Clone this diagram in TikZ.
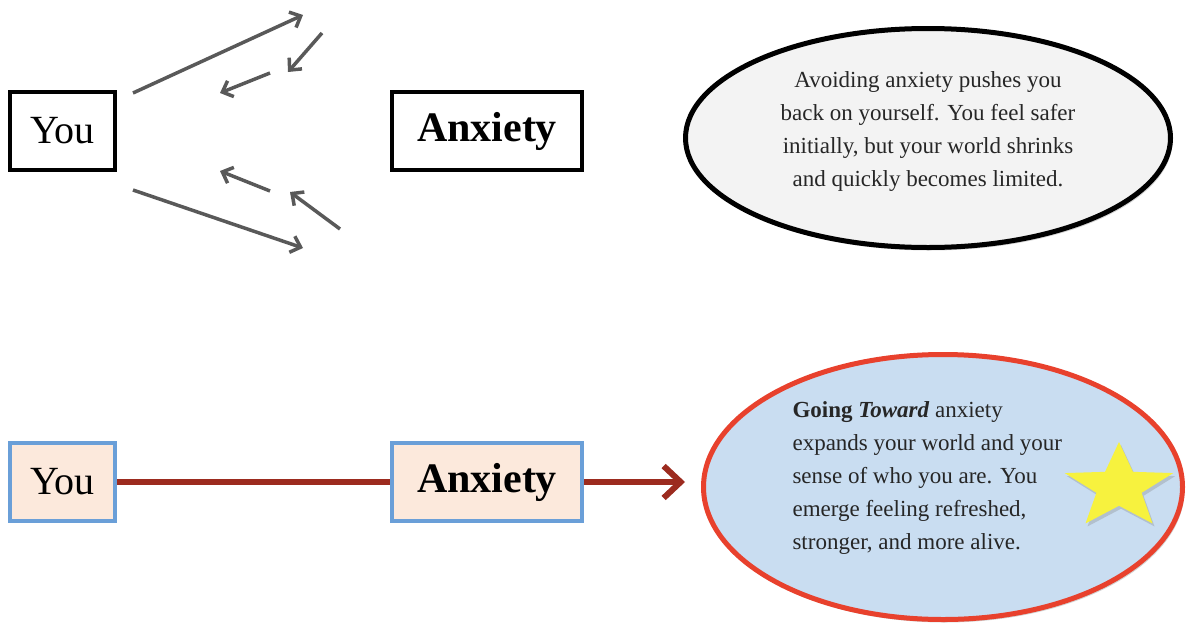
\documentclass[tikz,border=0pt]{standalone}
\usepackage{fontspec}
\setmainfont{Liberation Serif}
\usepackage{xcolor}
\usetikzlibrary{positioning, shapes.geometric, arrows.meta, shadows}

\definecolor{fangray}{HTML}{595959}
\definecolor{boxblue}{HTML}{6A9FD8}
\definecolor{boxpeach}{HTML}{FCE9DC}
\definecolor{pathred}{HTML}{9C2B1F}
\definecolor{ringred}{HTML}{E8412D}
\definecolor{calmblue}{HTML}{C9DDF1}
\definecolor{mistgray}{HTML}{F3F3F3}
\definecolor{staryellow}{HTML}{F7F23E}

\begin{document}
\begin{tikzpicture}[x=1pt, y=-1pt, node distance=273pt,
	plainbox/.style={draw=black, line width=4pt, fill=white, minimum height=78pt, inner sep=0pt},
	warmbox/.style={draw=boxblue, line width=4pt, fill=boxpeach, minimum height=78pt, inner sep=0pt},
	youtext/.style={font=\fontsize{40}{40}\selectfont, minimum width=105pt},
	anxtext/.style={font=\fontsize{42}{42}\selectfont\bfseries, minimum width=190pt},
	fanarrow/.style={draw=fangray, line width=3.5pt, -{Straight Barb[length=9pt,width=17pt]}},
	redline/.style={draw=pathred, line width=6pt},
	bubble/.style={font=\fontsize{23}{33}\selectfont, text=black!85}]
	\useasboundingbox (0,0) rectangle (1189,624);

	% avoiding
	\node[plainbox, youtext] (youA) at (62.5,131) {You};
	\node[plainbox, anxtext, right=of youA] (anxA) {Anxiety};
	\coordinate (goA) at (133,93);    \coordinate (goAend) at (303,15);
	\coordinate (backA) at (322,33);  \coordinate (backAend) at (288,72);
	\coordinate (backB) at (270,73);  \coordinate (backBend) at (220,93);
	\coordinate (goB) at (133,190);   \coordinate (goBend) at (303,248);
	\coordinate (backC) at (340,229); \coordinate (backCend) at (290,192);
	\coordinate (backD) at (270,191); \coordinate (backDend) at (220,171);
	\draw[fanarrow] (goA) -- (goAend);
	\draw[fanarrow] (backA) -- (backAend);
	\draw[fanarrow] (backB) -- (backBend);
	\draw[fanarrow] (goB) -- (goBend);
	\draw[fanarrow] (backC) -- (backCend);
	\draw[fanarrow] (backD) -- (backDend);
	\node[ellipse, draw=black, line width=5pt, fill=mistgray, minimum width=485pt, minimum height=219pt,
		drop shadow={shadow xshift=2pt, shadow yshift=-3pt, opacity=.35}] (avoid) at (928,138) {};
	\node[bubble, align=center] (avoidtext) at (928,131)
		{Avoiding anxiety pushes you\\back on yourself. You feel safer\\initially, but your world shrinks\\and quickly becomes limited.};

	% going toward
	\node[warmbox, youtext, below=269pt of youA] (youB) {You};
	\node[warmbox, anxtext, right=of youB] (anxB) {Anxiety};
	\coordinate (tip) at (685,482);
	\draw[redline] (youB) -- (anxB);
	\draw[redline, -{Straight Barb[length=17pt,width=32pt]}] (anxB) -- (tip);
	\node[ellipse, draw=ringred, line width=5pt, fill=calmblue, minimum width=479pt, minimum height=265pt,
		drop shadow={shadow xshift=2pt, shadow yshift=-3pt, opacity=.35}] (toward) at (943,487) {};
	\node[bubble, align=left, anchor=west] (towardtext) at (789,478)
		{\textbf{Going} \textbf{\textit{Toward}} anxiety\\expands your world and your\\sense of who you are. You\\emerge feeling refreshed,\\stronger, and more alive.};
	\begin{scope}[shift={(1119,487)}, yscale=0.79]
		\node[star, star points=5, star point ratio=2.4, minimum size=114pt, inner sep=0pt, fill=staryellow,
			transform shape, drop shadow={shadow xshift=2pt, shadow yshift=-3pt, opacity=.3}] (star) at (0,0) {};
	\end{scope}
\end{tikzpicture}
\end{document}
